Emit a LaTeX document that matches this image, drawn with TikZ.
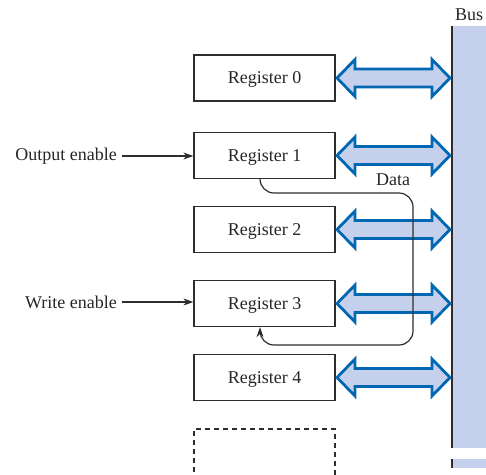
\documentclass[tikz,border=0pt]{standalone}
\usepackage{fontspec}
\setmainfont{Liberation Serif}
\usetikzlibrary{arrows.meta}
\definecolor{busfill}{RGB}{197,209,236}
\definecolor{arrowblue}{RGB}{0,103,178}
\definecolor{boxline}{RGB}{45,45,45}
\begin{document}
\begin{tikzpicture}[x=1pt,y=-1pt,
  reg/.style={draw=boxline,line width=1.3pt,minimum width=141pt,minimum height=46pt,inner sep=0pt,text depth=0pt,text=black!85,font=\fontsize{18}{20}\selectfont},
  lbl/.style={inner sep=0pt,text=black!85,font=\fontsize{18}{20}\selectfont},
  dblarrow/.style={draw=arrowblue,fill=busfill,line width=2.8pt,line join=miter},
  ctl/.style={-{Stealth[length=10pt,width=7pt]},line width=1.2pt,draw=boxline}]
\useasboundingbox (0,0) rectangle (486,474);
% bus
\fill[busfill] (452,26) rectangle (486,448);
\fill[busfill] (452,459) rectangle (486,468);
\draw[boxline,line width=1.3pt] (452,26) -- (452,448);
\draw[boxline,line width=1.3pt] (452,459) -- (452,468);
\node[lbl] (bus) at (469,15) {Bus};
% registers
\node[reg] (r0) at (264.5,78) {Register 0};
\node[reg] (r1) at (264.5,155.5) {Register 1};
\node[reg] (r2) at (264.5,229.5) {Register 2};
\node[reg] (r3) at (264.5,303.5) {Register 3};
\node[reg] (r4) at (264.5,377.5) {Register 4};
\draw[boxline,line width=1.3pt,dash pattern=on 5pt off 4pt] (194,490) -- (194,429) -- (335,429) -- (335,490);
% double arrows
\foreach \c in {78,155.5,229.5,303.5,377.5}{
  \draw[dblarrow] (337,\c) -- (355,\c-18.5) -- (355,\c-9) -- (432,\c-9) -- (432,\c-18.5) -- (450,\c) -- (432,\c+18.5) -- (432,\c+9) -- (355,\c+9) -- (355,\c+18.5) -- cycle;
}
% control inputs
\node[lbl,anchor=east] (oe) at (117,156) {Output enable};
\node[lbl,anchor=east] (we) at (117,302) {Write enable};
\draw[ctl] (oe.east) ++(5,0) coordinate (oes) -- (r1.west |- oes);
\draw[ctl] (we.east) ++(5,0) coordinate (wes) -- (r3.west |- wes);
% data path
\coordinate (d1) at (260,179);
\coordinate (d2) at (413,193);
\coordinate (d3) at (413,345);
\draw[-{Stealth[length=10pt,width=7pt]},line width=1.2pt,draw=boxline,rounded corners=14pt]
  (r1.south -| d1) |- (d2) -- (d3) -| (r3.south -| d1);
\node[lbl] (data) at (393,180) {Data};
\end{tikzpicture}
\end{document}
